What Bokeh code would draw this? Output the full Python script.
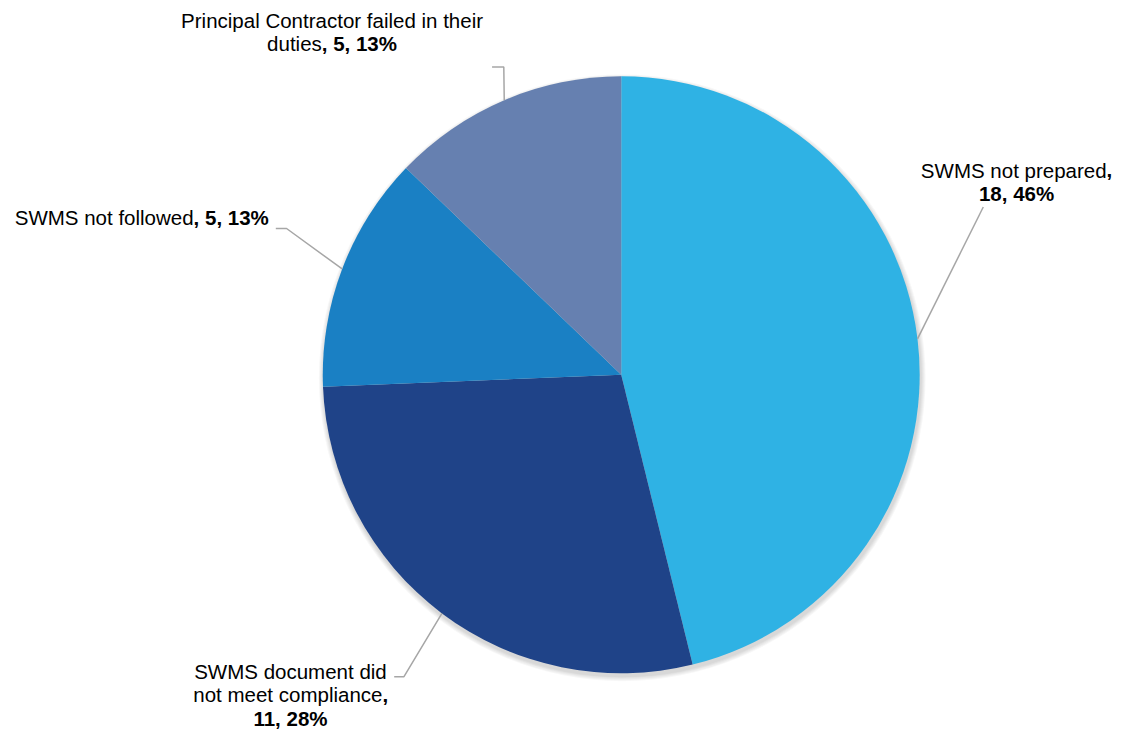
import math
from bokeh.plotting import figure
from bokeh.models import Range1d
from bokeh.embed import file_html
from bokeh.resources import INLINE
from bokeh.core.properties import value

# ---- data ----
categories = ["SWMS not prepared",
              "SWMS document did not meet compliance",
              "SWMS not followed",
              "Principal Contractor failed in their duties"]
counts = [18, 11, 5, 5]
percents = ["46%", "28%", "13%", "13%"]
colors = ["#2FB2E4", "#1F4388", "#1A80C4", "#6680B0"]

# ---- layout ----
W, H = 1125, 730
S = H / 746.0
OX = (W - 1141 * S) / 2


def X(rx):
    return rx * S + OX


def Y(ry):
    return H - ry * S


p = figure(width=W, height=H, x_range=Range1d(0, W), y_range=Range1d(0, H),
           output_backend="svg", toolbar_location=None, min_border=0)
p.axis.visible = False
p.grid.visible = False
p.outline_line_color = None
p.background_fill_color = "white"
p.border_fill_color = "white"

cx, cy, r = X(630), Y(382.5), 305 * S
total = sum(counts)

# soft shadow
for k in range(1, 6):
    p.circle(x=[cx + 1], y=[cy - 3], radius=r + k * S, fill_color="#000000",
             fill_alpha=0.03, line_color=None)

starts, ends, mids = [], [], []
cum = 0
for c in counts:
    a0 = math.pi / 2 - 2 * math.pi * cum / total
    cum += c
    a1 = math.pi / 2 - 2 * math.pi * cum / total
    starts.append(a1)
    ends.append(a0)
    mids.append((a0 + a1) / 2)

p.wedge(x=[cx] * len(counts), y=[cy] * len(counts), radius=r,
        start_angle=starts, end_angle=ends, fill_color=colors,
        line_color=None, direction="anticlock")

# leader lines
leader_pts = [
    [(1000, 211)],
    [(398, 691), (408, 691)],
    [(277, 233), (288, 233)],
    [(498, 68), (510, 68)],
]
for i, pts in enumerate(leader_pts):
    xs = [X(a) for a, b in pts]
    ys = [Y(b) for a, b in pts]
    xs.append(cx + r * math.cos(mids[i]))
    ys.append(cy + r * math.sin(mids[i]))
    p.line(xs, ys, line_color="#A6A6A6", line_width=1.5)

FONT = value("Liberation Sans")
FS = f"{21 * S:.1f}px"


def txt(x, y, s, align, bold=False):
    p.text(x=[X(x)], y=[Y(y)], text=[s], text_font=FONT, text_font_size=FS,
           text_align=align, text_baseline="middle", text_color="#000000",
           text_font_style="bold" if bold else "normal")


def tail(i):
    return f", {counts[i]}, {percents[i]}"


# SWMS not prepared
txt(1126, 173.5, categories[0], "right")
txt(1126, 173.5, ",", "left", True)
txt(1034, 197.5, f"{counts[0]}, {percents[0]}", "center", True)

# SWMS document did not meet compliance
txt(292, 685.5, "SWMS document did", "center")
txt(386, 709.5, "not meet compliance", "right")
txt(386, 709.5, ",", "left", True)
txt(292, 733.5, f"{counts[1]}, {percents[1]}", "center", True)

# SWMS not followed
txt(193, 222, categories[2], "right")
txt(193, 222, tail(2), "left", True)

# Principal Contractor
txt(334.5, 20, "Principal Contractor failed in their", "center")
txt(324, 44, "duties", "right")
txt(324, 44, tail(3), "left", True)

open("out.html", "w").write(file_html(p, INLINE))
